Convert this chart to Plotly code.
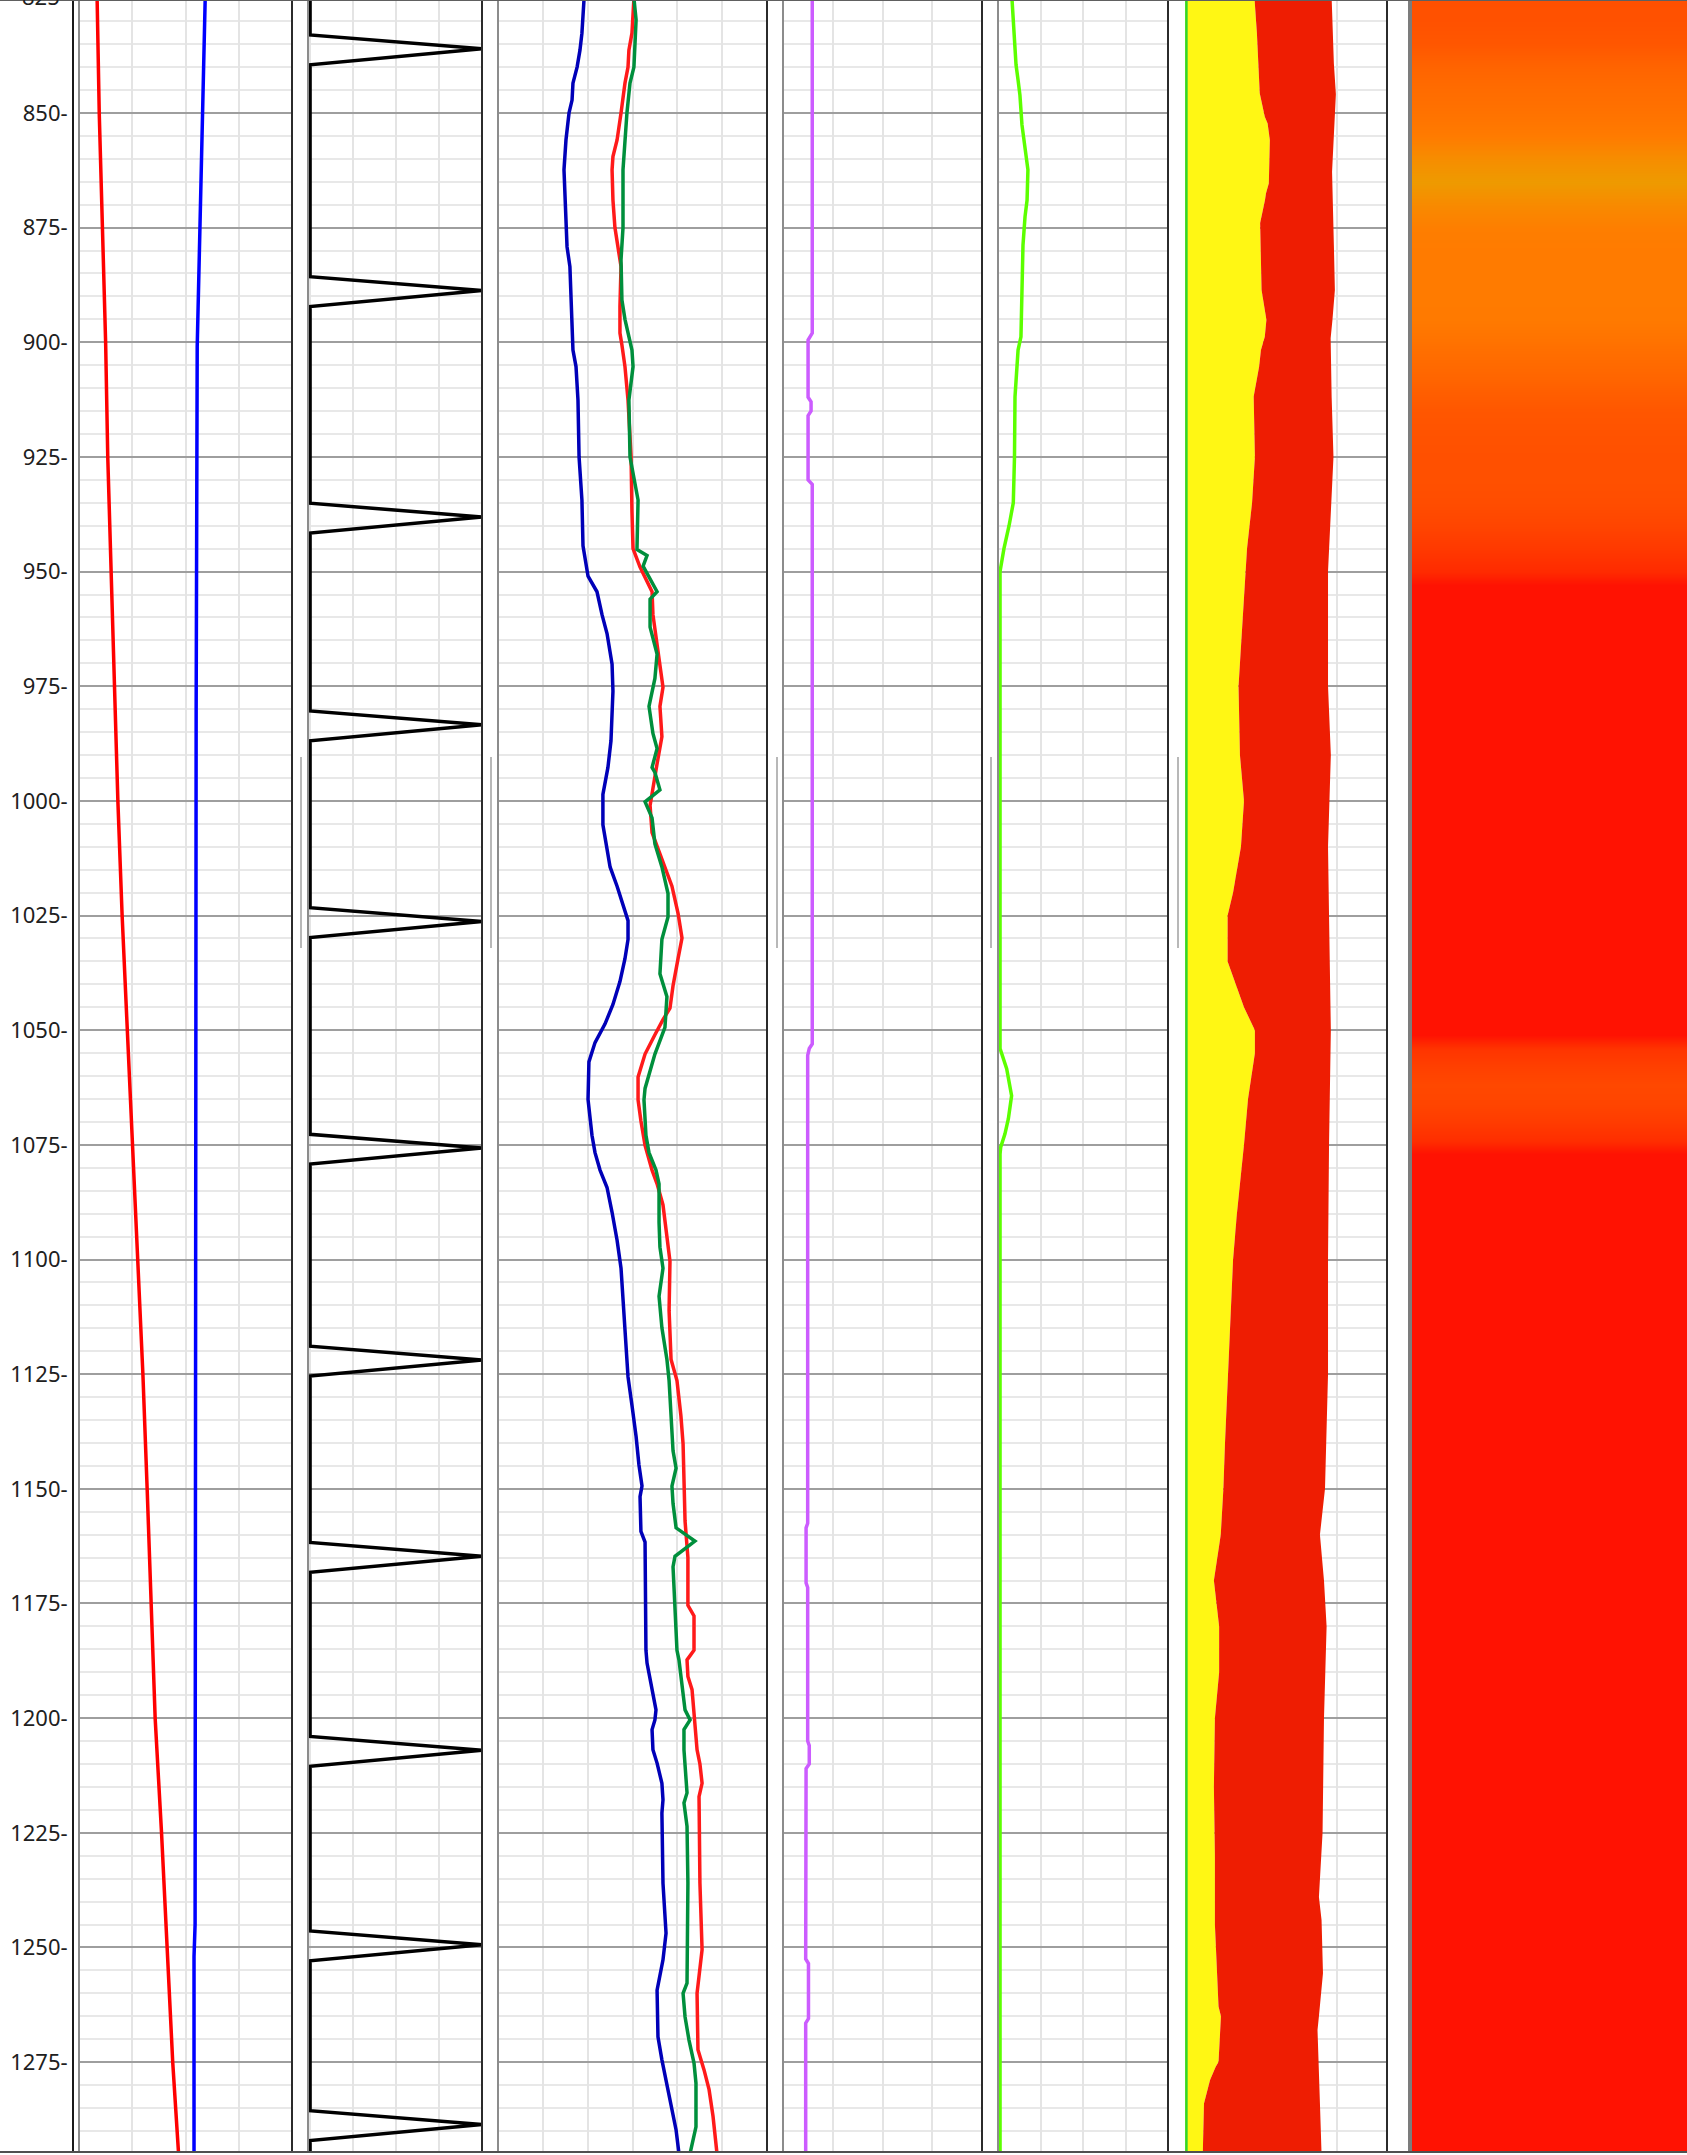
import plotly.graph_objects as go

W, H = 1687, 2155
DEPTH_TOP, DEPTH_BOT = 825.37, 1294.6

# ---------------- data ----------------
# Track 1
t1_red_depth = [825, 850, 875, 900, 925, 950, 975, 1000, 1025, 1050, 1075, 1100,
                1125, 1150, 1175, 1200, 1225, 1250, 1275, 1295]
t1_red_val = [17, 19, 22, 25, 27, 30, 33, 36.5, 40.5, 45.5, 50, 55,
              60, 64, 67.5, 71.5, 77.5, 83, 88, 93.5]
t1_blue_depth = [825, 835, 848, 862, 880, 901, 980, 1100, 1245, 1252, 1295]
t1_blue_val = [118.5, 117.5, 116.5, 115, 113, 111, 110, 109.5, 109, 108, 108]

# Track 2 (spike log)
t2_spike_peaks = [836.0, 888.7, 938.1, 983.4, 1026.3, 1075.7, 1121.9, 1164.7,
                  1207.0, 1249.4, 1288.6]
t2_base_val = 0
t2_peak_val = 100
t2_rise = 3.0
t2_fall = 3.5

# Track 3
t3_blue_depth = [825, 832.6, 836.3, 840, 843.5, 847.2, 850, 855.9, 862.4, 869,
                 875, 879.2, 883.5, 895.1, 901.7, 905.3, 912.6, 925, 934.4, 944.4,
                 951, 954.4, 959.4, 963.5, 970.2, 976.1, 986.9, 992.7, 998.6, 1005.2,
                 1010.2, 1014.4, 1018.6, 1022.8, 1026.1, 1030.2, 1034.4, 1039.4, 1044.4, 1048.6,
                 1052.7, 1056.9, 1065.1, 1072.9, 1076.7, 1080.5, 1084.3, 1089.7, 1095.8, 1101.9,
                 1108.8, 1118.8, 1125.6, 1131.8, 1138.6, 1144.8, 1149.4, 1151.7, 1159.3, 1161.6,
                 1185.2, 1188, 1193.8, 1198.2, 1200.4, 1202.5, 1206.9, 1209.8, 1214.2, 1217.8,
                 1220.7, 1236, 1246.9, 1252.7, 1259.3, 1269.5, 1274.5, 1279.6, 1284.7, 1289.8, 1294.9]
t3_blue_val = [48.0, 46.8, 45.7, 44.1, 41.8, 41.3, 39.6, 37.9, 36.8, 37.4,
               37.9, 38.5, 40.1, 41.3, 41.8, 43.5, 44.6, 45.2, 46.8, 47.4,
               50.2, 55.2, 58.0, 60.8, 63.6, 64.1, 63.0, 61.3, 58.5, 58.5,
               60.8, 62.5, 66.4, 69.7, 72.5, 72.5, 70.8, 68.0, 64.1, 59.7,
               54.1, 50.7, 50.2, 52.4, 54.1, 56.9, 60.8, 63.6, 66.4, 68.6,
               69.7, 71.4, 72.5, 74.7, 77.0, 78.6, 80.3, 79.2, 79.7, 82.0,
               82.5, 83.1, 85.9, 88.1, 87.5, 85.9, 86.4, 88.7, 91.4, 92.0,
               91.4, 92.0, 93.7, 92.0, 88.7, 89.2, 91.4, 94.2, 97.0, 99.3, 100.9]

t3_red_depth = [825, 829.7, 832.6, 836.3, 840, 843.5, 847.2, 850, 855.9, 859.5,
                862.4, 869, 875, 879.2, 883.5, 892.2, 898, 900.6, 905.3, 912.6,
                925, 936.9, 945, 949, 954.4, 959.4, 968, 975.2, 979.4, 986,
                991.9, 997.7, 1001, 1006.9, 1013.5, 1018.6, 1024.5, 1029.9, 1034.4, 1040.3,
                1045.2, 1047.7, 1051, 1055.2, 1060.2, 1065.2, 1069.8, 1075.1, 1080.5, 1083.5,
                1088.1, 1095.8, 1100.4, 1111.1, 1121.8, 1126.4, 1134.1, 1140.2, 1149.4, 1157,
                1165, 1175.4, 1177.7, 1185.2, 1187.3, 1190.9, 1193.8, 1198.2, 1206.9, 1210,
                1214.2, 1217.1, 1236, 1250.5, 1256.3, 1260, 1272.3, 1276.7, 1281, 1286.8, 1294.9]
t3_red_val = [75.8, 75.3, 74.7, 73.0, 72.5, 70.8, 69.7, 68.6, 66.4, 64.1,
              63.6, 64.1, 65.2, 66.9, 68.6, 68.0, 68.0, 69.1, 70.8, 72.5,
              74.2, 74.7, 75.3, 79.2, 85.9, 86.4, 89.2, 92.0, 90.3, 91.4,
              88.7, 85.9, 84.8, 85.9, 92.0, 97.0, 100.4, 102.6, 100.4, 97.6,
              95.9, 92.0, 87.5, 82.0, 78.1, 78.1, 79.7, 82.0, 85.9, 88.7,
              92.0, 94.2, 95.9, 95.4, 96.5, 99.8, 102.0, 103.2, 103.7, 104.3,
              105.9, 105.9, 109.3, 109.3, 105.4, 105.9, 108.2, 109.3, 111.0, 112.6,
              113.8, 112.1, 112.6, 113.8, 112.1, 111.0, 111.5, 114.9, 117.7, 119.9, 122.1]

t3_green_depth = [825, 829.7, 840, 843.5, 850, 855.9, 862.4, 875, 882, 890.8,
                  895, 901.7, 905.3, 912.6, 925, 934.4, 945.2, 946.5, 948.8, 954.4,
                  956, 962.1, 968, 973.3, 979.4, 985.3, 988.6, 992.7, 993.8, 997.6,
                  1000.2, 1003.7, 1009.4, 1014.4, 1020.2, 1025.3, 1030.2, 1037.7, 1042.7, 1049.4,
                  1055.2, 1062.7, 1065.2, 1072.9, 1076.7, 1080.5, 1083.5, 1091.9, 1097.3, 1101.9,
                  1105, 1108, 1114.9, 1121.8, 1126.4, 1141.7, 1145.5, 1149.4, 1153.2, 1158.5,
                  1161.4, 1164.7, 1167, 1175.4, 1185.2, 1187.3, 1192.4, 1198.2, 1200.4, 1202.5,
                  1206.9, 1216.3, 1218.5, 1223.6, 1236, 1257.8, 1260, 1265.1, 1270.2, 1275.2,
                  1279.6, 1289.1, 1294.9]
t3_green_val = [75.8, 77.0, 75.8, 73.6, 71.9, 70.8, 69.7, 69.7, 68.6, 69.1,
                70.8, 74.7, 75.3, 73.0, 73.6, 78.1, 77.5, 83.1, 80.9, 88.7,
                84.8, 84.8, 88.7, 87.5, 84.2, 86.4, 88.7, 85.9, 87.5, 90.3,
                82.0, 85.9, 87.5, 91.4, 94.8, 94.8, 91.4, 90.3, 94.2, 93.1,
                87.5, 82.0, 81.4, 82.5, 84.2, 88.1, 89.8, 89.8, 90.3, 92.0,
                90.9, 89.8, 91.4, 94.2, 95.4, 97.6, 99.3, 97.0, 97.6, 99.3,
                109.8, 98.7, 97.6, 98.7, 99.8, 100.9, 102.6, 104.3, 107.1, 103.7,
                103.7, 105.4, 103.7, 105.4, 105.9, 105.4, 103.2, 104.3, 106.5, 109.3,
                110.4, 110.4, 107.1]

# Track 4
t4_depth = [825, 898, 899.5, 912, 913, 915, 916, 930, 931, 1053, 1054, 1055.5, 1157.5,
            1158.5, 1170.5, 1171.5, 1205, 1206, 1210, 1211, 1252.5, 1253.5, 1265.5, 1266.5, 1295]
t4_val = [14.7, 14.7, 12.6, 12.6, 14.1, 14.1, 12.6, 12.6, 14.7, 14.7, 13.2, 12.4, 12.4,
          11.6, 11.6, 12.4, 12.4, 13.2, 13.2, 11.6, 11.4, 12.8, 12.8, 11.4, 11.4]

# Track 5
t5_depth = [825, 833, 839.5, 842.8, 846.1, 852.6, 855.9, 859.6, 862.4, 869, 872.6, 878.8,
            898.8, 901.7, 905.3, 911.9, 925, 935, 940, 945, 950, 1054, 1058.4, 1064.3,
            1069.3, 1072.6, 1075.5, 1077, 1295]
t5_val = [8.2, 9.4, 10.6, 11.8, 12.9, 14.1, 15.3, 16.5, 17.6, 17.1, 15.9, 14.7,
          13.5, 11.8, 11.2, 10.0, 9.7, 9.0, 6.5, 3.5, 1.2, 1.2, 5.1, 8.0,
          6.1, 4.1, 1.6, 1.2, 1.2]

# Track 6
t6_inner_depth = [825, 832.6, 845.7, 847.9, 850.8, 852.3, 855.9, 865.3, 867.5, 869,
                  872.6, 874, 888.6, 892.3, 895.1, 898.8, 901.7, 905.3, 908.9, 911.8,
                  925, 935, 945, 960, 975, 990, 1000, 1010, 1020, 1025,
                  1035, 1045, 1050, 1055, 1065, 1075, 1090, 1100, 1115, 1125,
                  1140, 1150, 1160, 1170, 1180, 1190, 1200, 1215, 1230, 1245,
                  1262.9, 1265, 1275, 1276, 1278.9, 1284, 1295]
t6_inner_val = [34.4, 35.6, 37.0, 38.1, 39.5, 40.9, 42.0, 41.5, 40.1, 39.6,
                38.1, 37.2, 37.9, 39.1, 40.3, 39.5, 37.6, 36.7, 35.1, 34.0,
                34.6, 33.2, 30.7, 28.7, 26.5, 27.2, 29.2, 27.7, 23.8, 21.1,
                21.1, 29.2, 34.6, 34.6, 31.2, 29.2, 25.7, 23.8, 22.2, 21.1,
                19.8, 19.0, 17.7, 14.3, 16.9, 16.9, 14.8, 14.3, 14.8, 14.8,
                16.6, 17.8, 16.6, 15.2, 12.4, 9.4, 8.8]
t6_outer_depth = [825, 839.2, 845.9, 855.9, 862.8, 878.8, 888.6, 895.1, 899.1, 912,
                  925, 950, 975, 990, 1010, 1025, 1050, 1075, 1100, 1125,
                  1150, 1160, 1170, 1180, 1200, 1225, 1239, 1244, 1255.6, 1265,
                  1268, 1284, 1295]
t6_outer_val = [72.6, 73.7, 74.7, 73.7, 72.8, 73.7, 74.2, 73.0, 72.1, 72.6,
                73.5, 70.8, 70.8, 72.2, 70.8, 71.3, 72.2, 71.3, 70.8, 70.8,
                69.3, 66.8, 68.8, 70.1, 68.8, 68.1, 66.3, 67.6, 68.3, 66.3,
                65.6, 66.8, 67.6]
t6_edge_depth = [825, 1295]
t6_edge_val = [0.7, 0.7]

# Track 7 (colour band)
t7_depth = [825, 830, 835, 840, 845, 850, 855, 860, 865, 870, 875, 880, 885, 890, 895,
            900, 905, 910, 915, 920, 925, 930, 935, 940, 945, 950, 953,
            1051, 1054, 1058, 1062, 1066, 1070, 1074, 1077, 1295]
t7_val = [0.40, 0.41, 0.45, 0.55, 0.65, 0.72, 0.80, 0.92, 1.00, 0.90, 0.82, 0.80, 0.80, 0.80, 0.79,
          0.72, 0.62, 0.52, 0.45, 0.42, 0.40, 0.40, 0.38, 0.33, 0.25, 0.15, 0.0,
          0.0, 0.22, 0.30, 0.35, 0.33, 0.27, 0.18, 0.0, 0.0]
t7_colorscale = [[0, '#ff1202'], [0.15, '#ff2a00'], [0.3, '#ff4000'], [0.4, '#ff5000'],
                 [0.55, '#ff6400'], [0.7, '#ff7000'], [0.8, '#ff7b00'], [0.9, '#f88a00'],
                 [1.0, '#ee9a00']]

# ---------------- layout of tracks (pixels) ----------------
tracks = [
    dict(px=(79, 292), rng=(0, 200), dtick=50),
    dict(px=(308, 482), rng=(-1.2, 100), dtick=25),
    dict(px=(498, 767), rng=(0, 150), dtick=25),
    dict(px=(783, 982), rng=(0, 100), dtick=25),
    dict(px=(998, 1168), rng=(0, 100), dtick=25),
    dict(px=(1185, 1387), rng=(0, 100), dtick=25),
    dict(px=(1410, 1687), rng=(0, 1), dtick=None),
]
GRID_V = '#e4e4e4'
GRID_MAJOR = '#9e9e9e'
GRID_MINOR = '#e8e8e8'
PLOT_BOTTOM = 3 / H

fig = go.Figure()


def line(x, y, axis, color, width=3):
    fig.add_trace(go.Scatter(x=x, y=y, mode='lines', xaxis=axis, yaxis='y',
                             line=dict(color=color, width=width), hoverinfo='skip',
                             showlegend=False))


# track 1
line(t1_red_val, t1_red_depth, 'x', '#ff0000', 3.5)
line(t1_blue_val, t1_blue_depth, 'x', '#0000ff', 3.5)

# track 2
t2_depth = [DEPTH_TOP - 1]
t2_vals = [t2_base_val]
for p in t2_spike_peaks:
    t2_depth += [p - t2_rise, p, p + t2_fall]
    t2_vals += [t2_base_val, t2_peak_val, t2_base_val]
t2_depth.append(DEPTH_BOT + 1)
t2_vals.append(t2_base_val)
line(t2_vals, t2_depth, 'x2', '#000000', 3.5)

# track 3
line(t3_blue_val, t3_blue_depth, 'x3', '#0000b8', 3.5)
line(t3_red_val, t3_red_depth, 'x3', '#ff1a1a', 3.5)
line(t3_green_val, t3_green_depth, 'x3', '#008f3c', 3.5)

# track 4
line(t4_val, t4_depth, 'x4', '#cc5cff', 3.5)

# track 5
line(t5_val, t5_depth, 'x5', '#5cff00', 3.5)

# track 6
fig.add_trace(go.Scatter(x=t6_inner_val, y=t6_inner_depth, mode='lines', xaxis='x6', yaxis='y',
                         fill='tozerox', fillcolor='#fff714', line=dict(width=0, color='#fff714'),
                         hoverinfo='skip', showlegend=False))
fig.add_trace(go.Scatter(x=t6_outer_val, y=t6_outer_depth, mode='lines', xaxis='x6', yaxis='y',
                         fill='tonextx', fillcolor='#ee1d02', line=dict(width=0, color='#ee1d02'),
                         hoverinfo='skip', showlegend=False))
line(t6_edge_val, t6_edge_depth, 'x6', '#2fd52f', 2.5)

# track 7
fig.add_trace(go.Heatmap(x=[0, 1], y=t7_depth, z=[[v, v] for v in t7_val], xaxis='x7', yaxis='y',
                         colorscale=t7_colorscale, zmin=0, zmax=1, showscale=False,
                         zsmooth='best', hoverinfo='skip'))

axes = {}
shapes = []
for i, t in enumerate(tracks, start=1):
    key = 'xaxis' if i == 1 else f'xaxis{i}'
    ref = 'x domain' if i == 1 else f'x{i} domain'
    ax = dict(domain=[t['px'][0] / W, t['px'][1] / W], range=list(t['rng']), anchor='y',
              showticklabels=False, ticks='', zeroline=False, showline=False, fixedrange=True)
    if t['dtick']:
        ax.update(showgrid=True, tick0=0, dtick=t['dtick'], gridcolor=GRID_V, gridwidth=2)
    else:
        ax.update(showgrid=False)
    axes[key] = ax
    if i != 6:
        left_col = '#7c7c7c' if i == 7 else '#8c8c8c'
        left_w = 4 if i == 7 else 2
        shapes.append(dict(type='line', xref=ref, yref='paper', x0=0, x1=0, y0=PLOT_BOTTOM, y1=1,
                           line=dict(color=left_col, width=left_w)))
    if i < 7:
        shapes.append(dict(type='line', xref=ref, yref='paper', x0=1, x1=1, y0=PLOT_BOTTOM, y1=1,
                           line=dict(color='#2b2b2b', width=2)))

# splitter handles between tracks
for sx in [301, 491, 777, 991, 1178]:
    shapes.append(dict(type='line', xref='paper', yref='paper', x0=sx / W, x1=sx / W,
                       y0=1 - 948 / H, y1=1 - 757 / H, line=dict(color='#b8b8b8', width=2)))
# top and bottom frame lines
shapes.append(dict(type='line', xref='paper', yref='paper', x0=0, x1=1, y0=1, y1=1,
                   line=dict(color='#606060', width=2)))
shapes.append(dict(type='line', xref='paper', yref='paper', x0=0, x1=1, y0=PLOT_BOTTOM, y1=PLOT_BOTTOM,
                   line=dict(color='#505050', width=2)))

fig.update_layout(
    width=W, height=H,
    margin=dict(l=0, r=0, t=0, b=0),
    paper_bgcolor='white', plot_bgcolor='white',
    showlegend=False,
    shapes=shapes,
    yaxis=dict(domain=[PLOT_BOTTOM, 1], range=[DEPTH_BOT, DEPTH_TOP], anchor='free',
               position=73 / W, side='left', showline=True, linecolor='#1a1a1a', linewidth=2,
               tickmode='linear', tick0=850, dtick=25, ticks='', ticksuffix='-',
               tickfont=dict(family='Noto Sans', size=22, color='#202020'),
               showgrid=True, gridcolor=GRID_MAJOR, gridwidth=2, zeroline=False,
               minor=dict(tickmode='linear', tick0=825, dtick=5, showgrid=True,
                          gridcolor=GRID_MINOR, gridwidth=2, ticks=''),
               fixedrange=True),
    # partially clipped label of the 825 line at the very top edge
    annotations=[dict(text='825-', x=73 / W, y=1, xref='paper', yref='paper', xanchor='right',
                      yanchor='middle', xshift=-4, yshift=4, showarrow=False,
                      font=dict(family='Noto Sans', size=22, color='#202020'))],
    **axes,
)

fig.write_html("out.html", config={'displayModeBar': False},
               post_script="document.body.style.margin='0px';")
